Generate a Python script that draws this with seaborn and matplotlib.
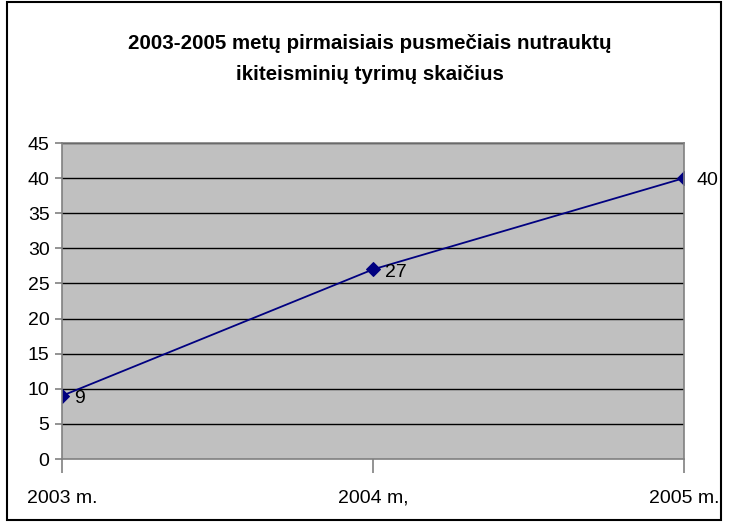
import matplotlib
matplotlib.use("Agg")
from matplotlib import pyplot as plt
from matplotlib.patches import Rectangle
import seaborn as sns
import pandas as pd

# duomenys
years = ["2003 m.", "2004 m,", "2005 m."]
cases = [9, 27, 40]
y_ticks = [0, 5, 10, 15, 20, 25, 30, 35, 40, 45]

title_text = "2003-2005 metų pirmaisiais pusmečiais nutrauktų\nikiteisminių tyrimų skaičius"

sns.set_style("white")
plt.rcParams['font.family'] = ['Liberation Sans', 'DejaVu Sans']
plt.rcParams['text.color'] = 'black'
plt.rcParams['xtick.labelcolor'] = 'black'
plt.rcParams['ytick.labelcolor'] = 'black'

df = pd.DataFrame({"metai": years, "skaicius": cases})

fig = plt.figure(figsize=(7.29, 5.30), dpi=100)
ax = fig.add_axes([62 / 729, 1 - 459 / 530, (684 - 62) / 729, (459 - 143) / 530])
ax.set_facecolor("#c0c0c0")

sns.lineplot(data=df, x="metai", y="skaicius", ax=ax, color="#000080",
             marker="D", markersize=7, markeredgecolor="#000080", linewidth=1.3,
             sort=False)

ax.set_xlim(0, len(years) - 1)
ax.set_ylim(0, 45)
ax.set_yticks(y_ticks)
ax.set_xticks(range(len(years)))
ax.set_xticklabels(years)
ax.set_xlabel("")
ax.set_ylabel("")

for v in y_ticks[1:]:
    ax.axhline(v, color="black", linewidth=1, zorder=1)

for sp in ax.spines.values():
    sp.set_color("#808080")
    sp.set_linewidth(1.2)

ax.tick_params(axis="x", length=10, width=1.2, color="#808080", pad=12,
               labelsize=14, direction="out", bottom=True, labelcolor="black")
ax.tick_params(axis="y", length=5, width=1.2, color="#808080", pad=4,
               labelsize=14, direction="out", left=True, labelcolor="black")

for i, v in enumerate(cases):
    ax.annotate(str(v), (i, v), xytext=(9, -2), textcoords="offset points",
                ha="left", va="center", fontsize=14, color="black",
                annotation_clip=False)

fig.text(370 / 729, 1 - 59 / 530, title_text, ha="center", va="center",
         fontsize=14.8, fontweight="bold", linespacing=1.85, color="black",
         family=["Liberation Sans Narrow", "Liberation Sans", "DejaVu Sans"])

fig.patches.append(Rectangle((7 / 729, 1 - 520 / 530), 714 / 729, 518 / 530,
                             transform=fig.transFigure, fill=False,
                             edgecolor="black", linewidth=1.5))

fig.savefig("out.png", dpi=100)
